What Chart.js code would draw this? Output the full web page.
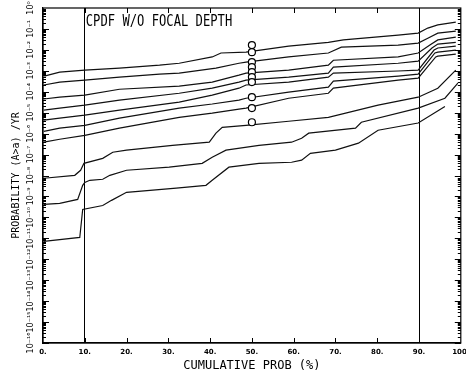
<!DOCTYPE html>
<html><head><meta charset="utf-8">
<script src="https://cdn.jsdelivr.net/npm/chart.js@4/dist/chart.umd.min.js"></script>
<style>html,body{margin:0;padding:0;background:#fff}</style>
</head><body>
<canvas id="c" width="466" height="377"></canvas>
<script>
const xTickValues=[0,10,20,30,40,50,60,70,80,90,100];
const xTickLabels=['0.','10.','20.','30.','40.','50.','60.','70.','80.','90.','100.'];
const yTickValues=[1e-16,1e-15,1e-14,1e-13,1e-12,1e-11,1e-10,1e-9,1e-8,1e-7,1e-6,1e-5,1e-4,1e-3,1e-2,1e-1,1];
const yTickLabels=['10⁻¹⁶','10⁻¹⁵','10⁻¹⁴','10⁻¹³','10⁻¹²','10⁻¹¹','10⁻¹⁰','10⁻⁹','10⁻⁸','10⁻⁷','10⁻⁶','10⁻⁵','10⁻⁴','10⁻³','10⁻²','10⁻¹','10⁰'];

const curve1X=[0.3,4,10,18.3,27.9,32.6,40.5,42.6,48.6,58.8,68.3,71.9,85,89.8,92.1,94.5,98.8];
const curve1Y=[5.6e-4,8.7e-4,1.07e-3,1.35e-3,1.86e-3,2.3e-3,4.6e-3,7.1e-3,7.8e-3,1.5e-2,2.3e-2,3.0e-2,5.1e-2,6.3e-2,0.11,0.155,0.21];
const curve2X=[0.2,4,10,18.3,27.9,32.6,41.4,46.9,48.6,58.8,68.3,71.4,85,89.8,92.1,94.5,98.8];
const curve2Y=[2.1e-4,2.9e-4,3.6e-4,5.0e-4,6.9e-4,7.8e-4,1.35e-3,2.3e-3,2.6e-3,4.6e-3,7.1e-3,1.35e-2,1.7e-2,2.1e-2,3.6e-2,6.3e-2,7.9e-2];
const curve3X=[0.2,4,10,18.3,32.6,40.5,46.9,48.6,58.8,68.3,69.5,85,89.8,92.6,94.5,98.8];
const curve3Y=[4.5e-5,5.5e-5,6.9e-5,1.32e-4,1.86e-4,2.9e-4,6.2e-4,7.8e-4,1.07e-3,1.86e-3,3.2e-3,4.6e-3,7.1e-3,1.7e-2,3.0e-2,4.1e-2];
const curve4X=[0.2,4,10,18.3,32.6,40.5,46.9,48.6,58.8,68.3,69.5,85,89.8,93.1,94.5,98.8];
const curve4Y=[1.32e-5,1.66e-5,2.3e-5,4.0e-5,8.5e-5,1.48e-4,2.9e-4,3.6e-4,5.0e-4,7.8e-4,1.5e-3,2.3e-3,2.9e-3,1.23e-2,1.9e-2,2.3e-2];
const curve5X=[0.2,4,10,18.3,32.6,40.5,46.9,48.6,58.8,68.3,69.5,85,89.8,93.6,94.5,98.8];
const curve5Y=[4.4e-6,5.5e-6,7.6e-6,1.32e-5,3.2e-5,6.9e-5,1.48e-4,2.1e-4,2.9e-4,5.0e-4,7.8e-4,9.8e-4,1.07e-3,9.8e-3,1.23e-2,1.5e-2];
const curve6X=[0.2,4,10,18.3,32.6,40.5,46.9,48.6,58.8,68.3,69.5,85,89.8,93.8,94.5,98.8];
const curve6Y=[1.29e-6,1.82e-6,2.5e-6,5.5e-6,1.66e-5,2.6e-5,4.0e-5,4.9e-5,9.5e-5,1.66e-4,3.2e-4,5.6e-4,6.9e-4,7.1e-3,7.8e-3,9.8e-3];
const curve7X=[0.2,4,10,18.3,32.6,40.5,46.9,48.6,58.8,68.3,69.5,85,89.8,94.0,94.5,98.8];
const curve7Y=[3.9e-7,5.4e-7,8.3e-7,1.82e-6,6.0e-6,9.5e-6,1.48e-5,1.66e-5,4.9e-5,8.5e-5,1.48e-4,3.6e-4,4.5e-4,4.6e-3,5.0e-3,6.3e-3];
const curve8X=[0.2,7.6,9.0,9.8,14.3,16.7,20,31,39.8,41.4,42.9,48.6,58.8,68.3,80.2,89.8,94.5,98.8];
const curve8Y=[7.4e-9,1.02e-8,1.78e-8,3.8e-8,6.6e-8,1.29e-7,1.62e-7,2.75e-7,3.9e-7,1.05e-6,2.0e-6,2.5e-6,3.9e-6,6.0e-6,2.3e-5,5.5e-5,1.48e-4,1.07e-3];
const curve9X=[0.2,4,8.3,9.5,10,11.2,14.3,16,20,30.2,38.1,40.5,43.8,51.7,59.5,61.9,63.6,74.8,76.2,89.8,96.2,99.3];
const curve9Y=[4.2e-10,4.7e-10,7.2e-10,3.4e-9,4.7e-9,5.9e-9,6.6e-9,1.02e-8,1.78e-8,2.5e-8,3.8e-8,7.4e-8,1.62e-7,2.75e-7,3.9e-7,6.0e-7,1.05e-6,1.82e-6,3.5e-6,1.66e-5,4.9e-5,2.6e-4];
const curve10X=[0.2,8.8,9.5,14.3,16.4,20,31.9,39,40.5,44.5,51.7,59.5,61.9,64.0,70,75.5,80.2,89.8,96.2];
const curve10Y=[7.1e-12,1.1e-11,2.4e-10,3.7e-10,6.5e-10,1.58e-9,2.5e-9,3.4e-9,5.9e-9,2.5e-8,3.8e-8,4.3e-8,5.4e-8,1.15e-7,1.62e-7,3.5e-7,1.45e-6,3.2e-6,2.0e-5];

const markerX=[50,50,50,50,50,50,50,50,50,50];
const markerY=[1.7e-2,7.8e-3,2.6e-3,1.5e-3,8.7e-4,5.0e-4,2.9e-4,5.5e-5,1.66e-5,3.5e-6];

const chartTitle='CPDF W/O FOCAL DEPTH';

const curves=[[curve1X,curve1Y],[curve2X,curve2Y],[curve3X,curve3Y],[curve4X,curve4Y],[curve5X,curve5Y],
  [curve6X,curve6Y],[curve7X,curve7Y],[curve8X,curve8Y],[curve9X,curve9Y],[curve10X,curve10Y]];
const datasets=curves.map((c,i)=>({
  label:'curve'+(i+1),
  data:c[0].map((x,j)=>({x:x,y:c[1][j]})),
  borderColor:'#111',borderWidth:1.2,pointRadius:0,fill:false,tension:0,order:1
}));
datasets.push({
  label:'markers',
  data:markerX.map((x,j)=>({x:x,y:markerY[j]})),
  showLine:false,pointStyle:'circle',pointRadius:3.5,borderColor:'#000',backgroundColor:'#fff',pointBorderWidth:1.2,order:-1
});

const frame={id:'frame',afterDatasetsDraw(chart){
  const {ctx,chartArea:a,scales:{x,y}}=chart;
  ctx.save();
  ctx.strokeStyle='#000';ctx.lineWidth=1.2;
  ctx.strokeRect(a.left,a.top,a.right-a.left,a.bottom-a.top);
  ctx.lineWidth=1;
  ctx.beginPath();
  for(let e=-16;e<0;e++){for(let m=1;m<10;m++){
    const py=Math.round(y.getPixelForValue(m*Math.pow(10,e)))+0.5;
    const L=m===1?6:3;
    ctx.moveTo(a.left,py);ctx.lineTo(a.left+L,py);
    ctx.moveTo(a.right,py);ctx.lineTo(a.right-L,py);
  }}
  xTickValues.forEach(v=>{
    if(v===0||v===100)return;
    const px=Math.round(x.getPixelForValue(v))+0.5;
    ctx.moveTo(px,a.bottom);ctx.lineTo(px,a.bottom-5);
    ctx.moveTo(px,a.top);ctx.lineTo(px,a.top+5);
  });
  ctx.stroke();
  ctx.fillStyle='#000';
  // y tick labels, rotated, read bottom-to-top, placed by the y scale
  ctx.font='8px "DejaVu Sans"';
  ctx.textAlign='center';ctx.textBaseline='middle';
  yTickValues.forEach((v,i)=>{
    const py=y.getPixelForValue(v);
    ctx.save();ctx.translate(31,py);ctx.rotate(-Math.PI/2);
    ctx.fillText(yTickLabels[i],0,0);ctx.restore();
  });
  // chart title inside plot
  ctx.font='16px "DejaVu Sans Mono"';
  ctx.textBaseline='middle';ctx.textAlign='left';
  ctx.translate(x.getPixelForValue(10)+1,a.top+14);
  ctx.scale(0.76,1);
  ctx.fillText(chartTitle,0,0);
  ctx.restore();
}};

new Chart(document.getElementById('c'),{
  type:'line',
  data:{datasets:datasets},
  options:{
    responsive:false,animation:false,
    layout:{padding:{left:0,right:4,top:8,bottom:0}},
    plugins:{legend:{display:false},tooltip:{enabled:false}},
    scales:{
      x:{type:'linear',min:0,max:100,
        afterBuildTicks:s=>{s.ticks=xTickValues.map(v=>({value:v}));},
        ticks:{callback:(v,i)=>xTickLabels[i],font:{family:'DejaVu Sans',size:7,weight:'bold'},color:'#000',maxRotation:0,minRotation:0,padding:5,autoSkip:false},
        grid:{color:c=>(c.tick&&(c.tick.value===10||c.tick.value===90))?'#000':'rgba(0,0,0,0)',lineWidth:1,drawTicks:false},
        border:{color:'#000',width:1.2},
        title:{display:true,text:'CUMULATIVE PROB (%)',font:{family:'DejaVu Sans Mono',size:12},color:'#000',padding:{top:2,bottom:4}},
        afterFit:s=>{s.height=34;s.paddingLeft=0;s.paddingRight=0;}
      },
      y:{type:'logarithmic',min:1e-16,max:1,
        afterBuildTicks:s=>{s.ticks=yTickValues.map(v=>({value:v}));},
        ticks:{display:false,autoSkip:false},
        grid:{display:false},
        border:{color:'#000',width:1.2},
        title:{display:true,text:'PROBABILITY (A>a) /YR',font:{family:'DejaVu Sans Mono',size:10},color:'#000',padding:{top:10,bottom:0}},
        afterFit:s=>{s.width=43;s.paddingTop=0;s.paddingBottom=0;}
      }
    }
  },
  plugins:[frame]
});
</script>
</body></html>
